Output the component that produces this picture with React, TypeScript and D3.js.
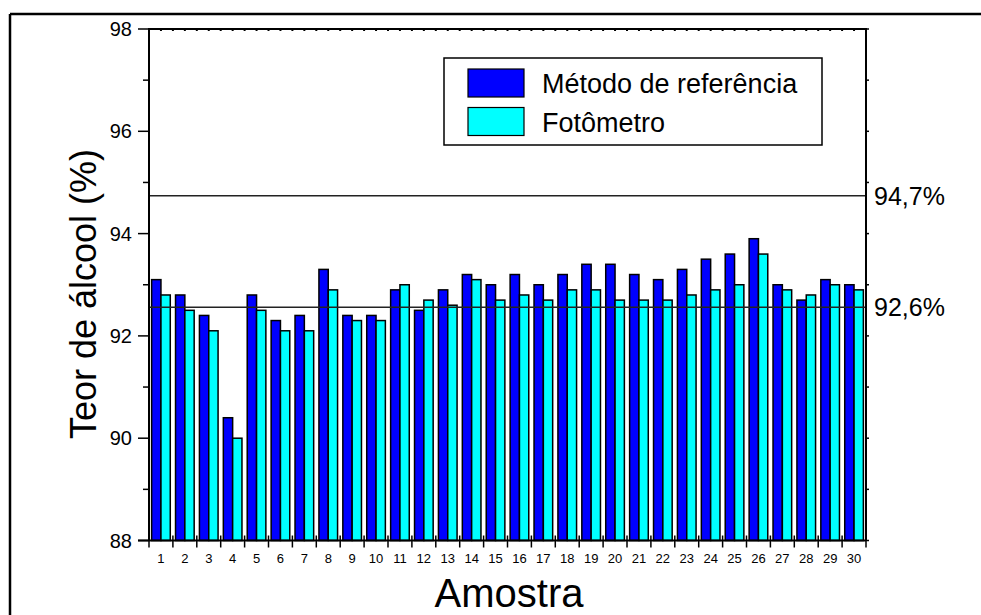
import React from "react";
import * as d3 from "d3";

const samples: number[] = Array.from({ length: 30 }, (_, i) => i + 1);
const seriesNames: string[] = ["Método de referência", "Fotômetro"];
const referenceMethod: number[] = [
  93.1, 92.8, 92.4, 90.4, 92.8, 92.3, 92.4, 93.3, 92.4, 92.4,
  92.9, 92.5, 92.9, 93.2, 93.0, 93.2, 93.0, 93.2, 93.4, 93.4,
  93.2, 93.1, 93.3, 93.5, 93.6, 93.9, 93.0, 92.7, 93.1, 93.0,
];
const photometer: number[] = [
  92.8, 92.5, 92.1, 90.0, 92.5, 92.1, 92.1, 92.9, 92.3, 92.3,
  93.0, 92.7, 92.6, 93.1, 92.7, 92.8, 92.7, 92.9, 92.9, 92.7,
  92.7, 92.7, 92.8, 92.9, 93.0, 93.6, 92.9, 92.8, 93.0, 92.9,
];
const refLineValues: number[] = [94.74, 92.56];
const refLineLabels: string[] = ["94,7%", "92,6%"];
const yTicks: number[] = [88, 90, 92, 94, 96, 98];
const yMinorTicks: number[] = [89, 91, 93, 95, 97];
const colors: string[] = ["#0000FF", "#00FFFF"];

const FONT = "'Liberation Sans', Arial, sans-serif";

export default function App() {
  const left = 149, right = 866, top = 29, bottom = 540.5;
  const y = d3.scaleLinear().domain([88, 98]).range([bottom, top]);
  const x0 = d3
    .scaleBand<number>()
    .domain(samples)
    .range([left, right])
    .paddingInner(0.22)
    .paddingOuter(0.11);
  const x1 = d3.scaleBand<number>().domain([0, 1]).range([0, x0.bandwidth()]).padding(0);
  const step = x0.step();
  const bounds = d3.range(31).map((i) => left + i * step);
  const halfBounds = d3.range(61).map((i) => left + (i * step) / 2);
  const allInts = d3.range(88, 99);
  const data = [referenceMethod, photometer];

  return (
    <svg
      width={981}
      height={615}
      style={{ position: "absolute", left: 0, top: 0, background: "#fff" }}
      fontFamily={FONT}
    >
      <rect x={0} y={0} width={981} height={615} fill="#fff" />
      {/* outer frame */}
      <line x1={10} x2={981} y1={14} y2={14} stroke="#000" strokeWidth={2.5} />
      <line x1={10} x2={10} y1={14} y2={615} stroke="#000" strokeWidth={2.5} />

      {/* bars */}
      {samples.map((s, i) => (
        <g key={s} transform={`translate(${x0(s)},0)`}>
          {data.map((series, k) => (
            <rect
              key={k}
              x={x1(k)}
              y={y(series[i])}
              width={x1.bandwidth()}
              height={y(88) - y(series[i])}
              fill={colors[k]}
              stroke="#000"
              strokeWidth={1.5}
            />
          ))}
        </g>
      ))}

      {/* reference lines */}
      {refLineValues.map((v, i) => (
        <g key={i}>
          <line x1={left} x2={right} y1={y(v)} y2={y(v)} stroke="#222" strokeWidth={1.6} />
          <text x={right + 8} y={y(v) + 9} fontSize={25} fill="#000">
            {refLineLabels[i]}
          </text>
        </g>
      ))}

      {/* top axis */}
      <line x1={left} x2={right} y1={top} y2={top} stroke="#000" strokeWidth={2} />
      {halfBounds.map((b, i) => (
        <line key={i} x1={b} x2={b} y1={top - 1} y2={top + 2} stroke="#000" strokeWidth={2} />
      ))}

      {/* right axis */}
      <line x1={right} x2={right} y1={top} y2={bottom} stroke="#000" strokeWidth={2} />
      {allInts.map((v) => (
        <line key={v} x1={right} x2={right + 3} y1={y(v)} y2={y(v)} stroke="#000" strokeWidth={1.5} />
      ))}

      {/* left axis */}
      <line x1={left} x2={left} y1={top} y2={bottom} stroke="#000" strokeWidth={2} />
      {yTicks.map((v) => (
        <g key={v}>
          <line x1={left - 11} x2={left} y1={y(v)} y2={y(v)} stroke="#000" strokeWidth={1.5} />
          <text x={132} y={y(v) + 7} fontSize={20} textAnchor="end" fill="#000">
            {v}
          </text>
        </g>
      ))}
      {yMinorTicks.map((v) => (
        <line key={v} x1={left - 6} x2={left} y1={y(v)} y2={y(v)} stroke="#000" strokeWidth={1.5} />
      ))}

      {/* bottom axis */}
      <line x1={left - 11} x2={right} y1={bottom} y2={bottom} stroke="#000" strokeWidth={2} />
      {bounds.map((b, i) => (
        <line key={i} x1={b} x2={b} y1={bottom - 5} y2={bottom + 7} stroke="#000" strokeWidth={1.5} />
      ))}
      {samples.map((s) => (
        <text
          key={s}
          x={(x0(s) as number) + x0.bandwidth() / 2}
          y={563}
          fontSize={13}
          textAnchor="middle"
          fill="#000"
        >
          {s}
        </text>
      ))}

      {/* axis titles */}
      <text x={509} y={607} fontSize={40} textAnchor="middle" fill="#000">
        Amostra
      </text>
      <text
        transform={`translate(96,294) rotate(-90)`}
        fontSize={36}
        textAnchor="middle"
        fill="#000"
      >
        Teor de álcool (%)
      </text>

      {/* legend */}
      <rect x={444} y={58} width={378} height={87} fill="#fff" stroke="#000" strokeWidth={1.5} />
      {seriesNames.map((n, i) => (
        <g key={n}>
          <rect
            x={468}
            y={69 + i * 38.5}
            width={56}
            height={28}
            fill={colors[i]}
            stroke="#000"
            strokeWidth={1.2}
          />
          <text x={542} y={93 + i * 38.5} fontSize={27} fill="#000">
            {n}
          </text>
        </g>
      ))}
    </svg>
  );
}
